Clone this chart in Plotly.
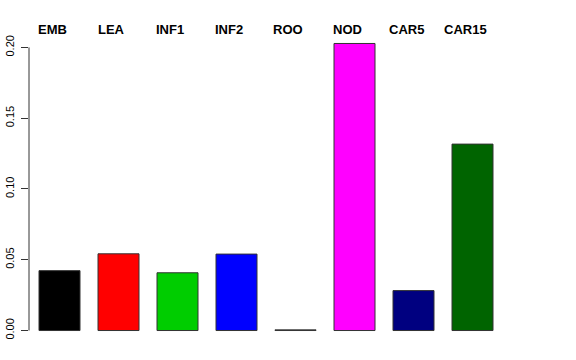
import plotly.graph_objects as go

categories = ["EMB", "LEA", "INF1", "INF2", "ROO", "NOD", "CAR5", "CAR15"]
values = [0.0423, 0.0542, 0.0408, 0.0540, 0.0005, 0.2028, 0.0282, 0.1317]
colors = ["#000000", "#FF0000", "#00CD00", "#0000FF", "#FFFFFF", "#FF00FF", "#000080", "#006400"]
tick_vals = [0.00, 0.05, 0.10, 0.15, 0.20]
tick_text = ["0.00", "0.05", "0.10", "0.15", "0.20"]

xpos = list(range(len(categories)))

fig = go.Figure()
fig.add_trace(go.Bar(
    x=xpos, y=values,
    marker=dict(color=colors, line=dict(color="#333333", width=1)),
    width=0.695,
    hoverinfo="skip",
))

for i, c in enumerate(categories):
    fig.add_annotation(x=i, y=1, xref="x", yref="paper", text="<b>%s</b>" % c,
                       showarrow=False, xanchor="center", yanchor="middle",
                       xshift=-7.5, yshift=3,
                       font=dict(family="Liberation Sans, Arial, sans-serif", size=13, color="black"))

fig.add_shape(type="line", xref="paper", yref="y", x0=0, x1=0, y0=0, y1=0.20,
              line=dict(color="#333333", width=1))

fig.update_layout(
    width=576, height=360,
    margin=dict(l=29, r=72.5, t=31.5, b=17.5, autoexpand=False),
    paper_bgcolor="white", plot_bgcolor="white",
    showlegend=False,
    font=dict(family="Liberation Sans, Arial, sans-serif", size=11, color="black"),
    xaxis=dict(range=[-0.517, 7.517], showticklabels=False, showgrid=False,
               zeroline=False, showline=False, ticks="", automargin=False),
    yaxis=dict(range=[-0.00811, 0.2109], tickvals=tick_vals, ticktext=tick_text,
               tickangle=-90, ticks="outside", ticklen=7, tickcolor="#333333",
               ticklabelstandoff=3,
               showgrid=False, zeroline=False, showline=False, automargin=False,
               tickfont=dict(size=11, color="black")),
)

fig.write_html("out.html", config={"displayModeBar": False},
               post_script="document.body.style.margin='0';document.body.style.overflow='hidden';")
